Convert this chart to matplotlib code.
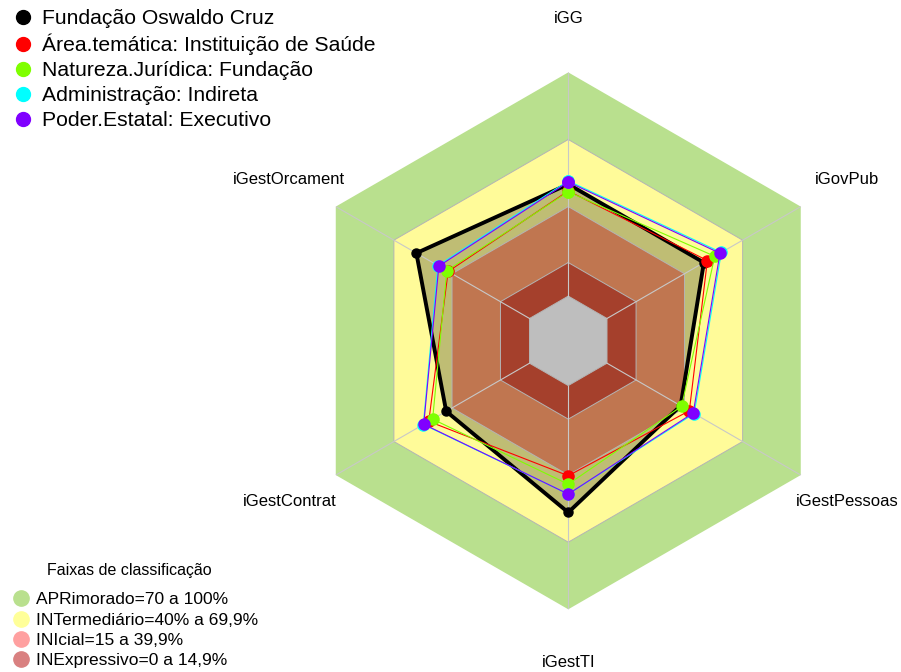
import matplotlib.pyplot as plt
import numpy as np
from matplotlib.lines import Line2D

plt.rcParams['font.family'] = ['Liberation Sans', 'DejaVu Sans']

categories = ['iGG', 'iGovPub', 'iGestPessoas', 'iGestTI', 'iGestContrat', 'iGestOrcament']

fiocruz = [50, 50, 38, 56.7, 43, 58.4]
area_tematica = [47, 51.8, 42.5, 40.3, 52, 42]
natureza = [46.6, 55.6, 38.5, 44.1, 50, 42.7]
administracao = [51.5, 59, 45, 48.5, 54.8, 47.3]
poder = [51, 58.3, 44.5, 48.5, 54.6, 46.8]

series = [fiocruz, area_tematica, natureza, administracao, poder]
series_names = ['Fundação Oswaldo Cruz',
                'Área.temática: Instituição de Saúde',
                'Natureza.Jurídica: Fundação',
                'Administração: Indireta',
                'Poder.Estatal: Executivo']
series_colors = ['#000000', '#FF0000', '#7FFF00', '#00FFFF', '#8000FF']

# faixas (limite superior de cada faixa)
band_tops = [100, 70, 40, 15]
band_colors = ['#B9E08E', '#FFFB99', '#C07650', '#A5402C']
band_labels = ['APRimorado=70 a 100%', 'INTermediário=40% a 69,9%',
               'INIcial=15 a 39,9%', 'INExpressivo=0 a 14,9%']
band_legend_colors = ['#B9E08E', '#FFFF99', '#FFA0A0', '#D98080']

angles = np.arange(len(categories)) * 2 * np.pi / len(categories)
ang = np.append(angles, angles[0])


def closed(vals):
    return np.append(vals, vals[0])


fig = plt.figure(figsize=(9.01, 6.72), dpi=100)
ax = fig.add_axes([0.3327, 0.0933, 0.596, 0.799], projection='polar')
ax.set_theta_offset(np.pi / 2)
ax.set_theta_direction(-1)
ax.set_ylim(-20, 100)

# bandas externas
ax.fill(ang, [band_tops[0]] * 7, color=band_colors[0], lw=0, zorder=1)
ax.fill(ang, [band_tops[1]] * 7, color=band_colors[1], lw=0, zorder=1)
# area da Fiocruz
ax.fill(ang, closed(fiocruz), color='#808050', alpha=0.5, lw=0, zorder=2)
# bandas internas
ax.fill(ang, [band_tops[2]] * 7, color=band_colors[2], lw=0, zorder=3)
ax.fill(ang, [band_tops[3]] * 7, color=band_colors[3], lw=0, zorder=3)
ax.fill(ang, [0] * 7, color='#BEBEBE', lw=0, zorder=3)

for r in [0, 15, 40, 70]:
    ax.plot(ang, [r] * 7, color='#B4B4B4', lw=0.7, zorder=4)
for a in angles:
    ax.plot([a, a], [0, 100], color='#C8C8C8', lw=0.8, zorder=4)

for i, (vals, c) in enumerate(zip(series, series_colors)):
    if i == 0:
        ax.plot(ang, closed(vals), color=c, lw=2.8, marker='o', ms=6.5, zorder=5)
    else:
        ax.plot(ang, closed(vals), color=c, lw=0.8, marker='o', ms=8, zorder=5 + i)

for a, lab in zip(angles, categories):
    ax.text(a, 124, lab, ha='center', va='center', fontsize=12)

ax.set_xticks([])
ax.set_yticks([])
ax.spines['polar'].set_visible(False)
ax.grid(False)

handles = [Line2D([], [], ls='none', marker='o', ms=10, color=c) for c in series_colors]
fig.legend(handles, series_names, loc='upper left', bbox_to_anchor=(12 / 901, 1 - 9 / 672),
           frameon=False, fontsize=15.2, handlelength=1, handletextpad=0.4,
           labelspacing=0.28, borderpad=0, borderaxespad=0)

handles2 = [Line2D([], [], ls='none', marker='o', ms=11, color=c) for c in band_legend_colors]
fig.legend(handles2, band_labels, loc='lower left', bbox_to_anchor=(12 / 901, 4 / 672),
           frameon=False, fontsize=12.5, handlelength=1, handletextpad=0.4,
           labelspacing=0.29, borderpad=0, borderaxespad=0)
fig.text(129 / 901, 1 - 570 / 672, 'Faixas de classificação', ha='center', va='center',
         fontsize=11.5)

fig.savefig('out.png', dpi=100)
